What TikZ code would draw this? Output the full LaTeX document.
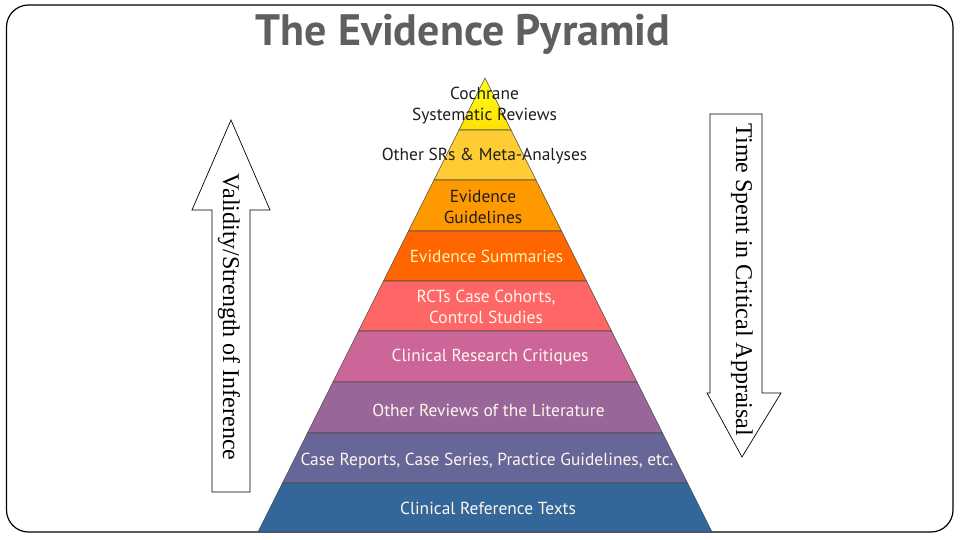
\documentclass[tikz,border=0pt]{standalone}
\usepackage{fontspec}
\setmainfont{Liberation Serif}
\newfontfamily\layerfont{PT Sans}
\newfontfamily\headfont{PT Sans}
\usepackage{tikz}
\usetikzlibrary{calc}

\definecolor{lvlAtop}{HTML}{FFFF1A}
\definecolor{lvlAbot}{HTML}{FFE000}
\definecolor{lvlB}{HTML}{FFCC33}
\definecolor{lvlC}{HTML}{FF9900}
\definecolor{lvlD}{HTML}{FF6600}
\definecolor{lvlE}{HTML}{FF6666}
\definecolor{lvlF}{HTML}{CC6699}
\definecolor{lvlG}{HTML}{996699}
\definecolor{lvlH}{HTML}{666699}
\definecolor{lvlI}{HTML}{336699}
\definecolor{darktext}{HTML}{1E1E1E}
\definecolor{lighttext}{HTML}{FFF6EC}
\definecolor{creamtext}{HTML}{FFF0B4}
\definecolor{titlegray}{HTML}{5F5F5F}

\tikzset{
  layer/.style={draw=black!70, line width=0.6pt},
  layertext/.style={font=\layerfont\fontsize{17.4}{21.5}\selectfont, align=center, inner sep=0pt},
  bigarrow/.style={draw=black, line width=0.7pt, fill=white},
  arrowtext/.style={font=\fontsize{24}{28}\selectfont, rotate=-90, inner sep=0pt},
}

\begin{document}
\begin{tikzpicture}[x=1pt, y=-1pt]
        \useasboundingbox (0,0) rectangle (960,540);

        % slide frame
        \draw[line width=1.2pt, rounded corners=22pt] (6.5,5) rectangle (953,532);

        \node[font=\headfont\bfseries\fontsize{44}{48}\selectfont, text=titlegray] (title) at (463,34) {The Evidence Pyramid};

        \coordinate (T) at (485,78);
        \coordinate (L1) at (459,130);   \coordinate (R1) at (511,130);
        \coordinate (L2) at (434,180);   \coordinate (R2) at (536,180);
        \coordinate (L3) at (408.5,231); \coordinate (R3) at (561.5,231);
        \coordinate (L4) at (383.5,281); \coordinate (R4) at (586.5,281);
        \coordinate (L5) at (358.5,331); \coordinate (R5) at (611.5,331);
        \coordinate (L6) at (333,382);   \coordinate (R6) at (637,382);
        \coordinate (L7) at (307.5,433); \coordinate (R7) at (662.5,433);
        \coordinate (L8) at (282.5,483); \coordinate (R8) at (687.5,483);
        \coordinate (L9) at (258,532);   \coordinate (R9) at (712,532);

        \draw[layer, top color=lvlAtop, bottom color=lvlAbot] (T) -- (R1) -- (L1) -- cycle;
        \draw[layer, fill=lvlB] (L1) -- (R1) -- (R2) -- (L2) -- cycle;
        \draw[layer, fill=lvlC] (L2) -- (R2) -- (R3) -- (L3) -- cycle;
        \draw[layer, fill=lvlD] (L3) -- (R3) -- (R4) -- (L4) -- cycle;
        \draw[layer, fill=lvlE] (L4) -- (R4) -- (R5) -- (L5) -- cycle;
        \draw[layer, fill=lvlF] (L5) -- (R5) -- (R6) -- (L6) -- cycle;
        \draw[layer, fill=lvlG] (L6) -- (R6) -- (R7) -- (L7) -- cycle;
        \draw[layer, fill=lvlH] (L7) -- (R7) -- (R8) -- (L8) -- cycle;
        \draw[layer, fill=lvlI] (L8) -- (R8) -- (R9) -- (L9) -- cycle;

        \node[layertext, text=darktext] (cochrane) at (484.5,105.5) {Cochrane\\Systematic Reviews};
        \node[layertext, text=darktext] (othersr) at (484.5,156) {Other SRs \& Meta-Analyses};
        \node[layertext, text=darktext] (guide) at (483,207) {Evidence\\Guidelines};
        \node[layertext, text=creamtext] (summ) at (486.5,256) {Evidence Summaries};
        \node[layertext, text=lighttext] (rcts) at (486,307) {RCTs Case Cohorts,\\Control Studies};
        \node[layertext, text=lighttext] (critique) at (490,357) {Clinical Research Critiques};
        \node[layertext, text=lighttext] (reviews) at (488.5,410) {Other Reviews of the Literature};
        \node[layertext, text=lighttext] (cases) at (487,461) {Case Reports, Case Series, Practice Guidelines, etc.};
        \node[layertext, text=lighttext] (texts) at (488,508) {Clinical Reference Texts};

        % side arrows
        \draw[bigarrow] (212,492) -- (212,210) -- (192,210) -- (231,120) -- (270,210) -- (250,210) -- (250,492) -- cycle;
        \node[arrowtext] (validity) at (229,317) {Validity/Strength of Inference};

        \draw[bigarrow] (710,114) -- (762,114) -- (762,393) -- (781,393) -- (742,457) -- (707,393) -- (710,393) -- cycle;
        \node[arrowtext] (timespent) at (742,280) {Time Spent in Critical Appraisal};
    \end{tikzpicture}
\end{document}
